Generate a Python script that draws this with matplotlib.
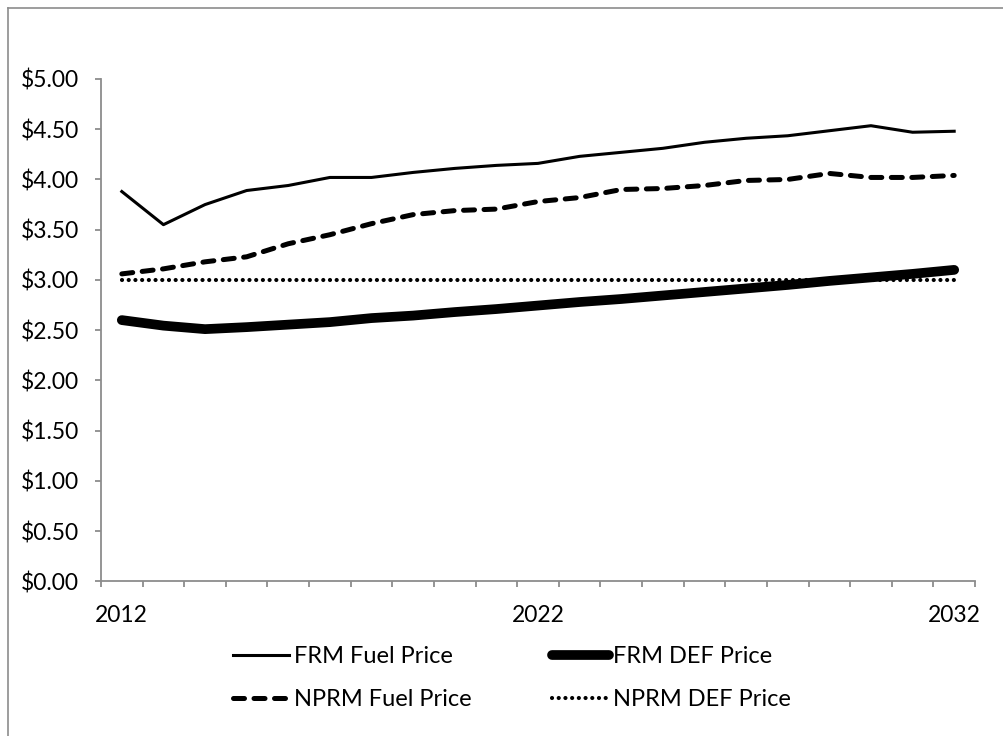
import matplotlib
matplotlib.use("Agg")
import matplotlib.pyplot as plt
from matplotlib.lines import Line2D

years = list(range(2012, 2033))
frm_fuel = [3.88, 3.55, 3.75, 3.89, 3.94, 4.02, 4.02, 4.07, 4.11, 4.14, 4.16,
            4.23, 4.27, 4.31, 4.37, 4.41, 4.435, 4.485, 4.535, 4.47, 4.48]
nprm_fuel = [3.06, 3.11, 3.18, 3.23, 3.36, 3.45, 3.56, 3.65, 3.69, 3.705, 3.78,
             3.82, 3.90, 3.91, 3.94, 3.99, 4.00, 4.06, 4.02, 4.02, 4.04]
frm_def = [2.60, 2.545, 2.51, 2.53, 2.555, 2.58, 2.62, 2.645, 2.68, 2.71, 2.745,
           2.78, 2.81, 2.845, 2.88, 2.915, 2.95, 2.99, 3.025, 3.06, 3.10]
nprm_def = [3.00] * 21
x_labels = ["2012", "2022", "2032"]
y_ticks = [0, 0.5, 1.0, 1.5, 2.0, 2.5, 3.0, 3.5, 4.0, 4.5, 5.0]

plt.rcParams['font.family'] = ['Lato', 'DejaVu Sans']
W, H = 1004, 736
fig = plt.figure(figsize=(W / 100, H / 100), dpi=100)
fig.patch.set_facecolor('white')

gray = '#8c8c8c'
# outer chart border (top and left visible)
fig.add_artist(Line2D([8 / W, 1.0], [1 - 8 / H, 1 - 8 / H], color=gray, lw=1.2, transform=fig.transFigure))
fig.add_artist(Line2D([8 / W, 8 / W], [0, 1 - 8 / H], color=gray, lw=1.2, transform=fig.transFigure))

ax = fig.add_axes([101 / W, (H - 581.3) / H, 874 / W, (581.3 - 79) / H])
xs = list(range(len(years)))

l1, = ax.plot(xs, frm_fuel, color='black', lw=2.2, solid_joinstyle='round', label='FRM Fuel Price')
l3, = ax.plot(xs, nprm_def, color='black', lw=3.0, linestyle=(0, (0.01, 1.6)),
              dash_capstyle='round', label='NPRM DEF Price')
l2, = ax.plot(xs, nprm_fuel, color='black', lw=3.6, linestyle=(0, (2.2, 1.9)),
              dash_capstyle='round', label='NPRM Fuel Price')
l4, = ax.plot(xs, frm_def, color='black', lw=7.0, solid_capstyle='round',
              solid_joinstyle='round', label='FRM DEF Price')

ax.set_xlim(-0.5, 20.5)
ax.set_ylim(0, 5)
ax.set_yticks(y_ticks)
ax.set_yticklabels([f"${v:.2f}" for v in y_ticks])
ax.set_xticks([years.index(int(s)) for s in x_labels])
ax.set_xticklabels(x_labels)
ax.set_xticks([i - 0.5 for i in range(len(years) + 1)], minor=True)

for s in ['top', 'right']:
    ax.spines[s].set_visible(False)
for s in ['left', 'bottom']:
    ax.spines[s].set_color(gray)
    ax.spines[s].set_linewidth(1.3)

ax.tick_params(axis='y', which='major', direction='out', length=4, width=1.3, color=gray,
               labelsize=16.5, pad=12, labelcolor='black')
ax.tick_params(axis='x', which='major', length=0, labelsize=16.5, pad=17, labelcolor='black')
ax.tick_params(axis='x', which='minor', direction='out', length=4, width=1.3, color=gray)

fig.legend(handles=[l1, l2, l4, l3], labels=['FRM Fuel Price', 'NPRM Fuel Price', 'FRM DEF Price', 'NPRM DEF Price'],
           ncol=2, loc='center', bbox_to_anchor=(512 / W, (H - 678) / H), frameon=False,
           fontsize=17, handlelength=2.4, handletextpad=0.2, columnspacing=3.4, labelspacing=0.95)

fig.savefig('out.png', dpi=100, facecolor='white')
